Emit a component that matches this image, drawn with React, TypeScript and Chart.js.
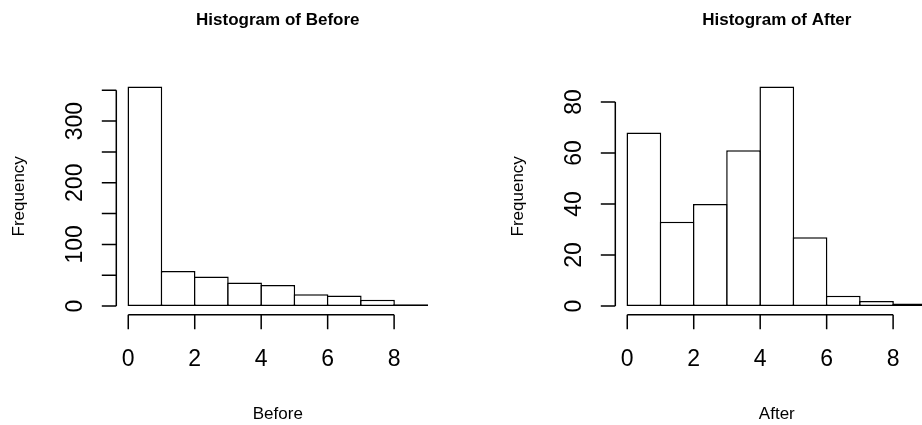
import React, { useEffect, useRef } from "react";
import { Chart, registerables } from "chart.js";

Chart.register(...registerables);

// ---- data ----
const binEdges = [0, 1, 2, 3, 4, 5, 6, 7, 8, 9];
const beforeCounts = [356, 57, 48, 38, 34, 19, 17, 10, 3];
const afterCounts = [68, 33, 40, 61, 86, 27, 4, 2, 1];
const xTicks = [0, 2, 4, 6, 8];
const beforeYTicks = [0, 50, 100, 150, 200, 250, 300, 350];
const beforeYLabels = [0, 100, 200, 300];
const afterYTicks = [0, 20, 40, 60, 80];
const afterYLabels = [0, 20, 40, 60, 80];
const titles = ["Histogram of Before", "Histogram of After"];
const xLabels = ["Before", "After"];
const yLabel = "Frequency";

// ---- layout / style ----
const FONT = '"Liberation Sans", Arial, Helvetica, sans-serif';
const PANEL_W = 499;
const PANEL_H = 425;
const PAD = { left: 116.3, right: 59.7, top: 77.8, bottom: 110.2 };
const TICK_LEN = 14.5;
const TICK_LABEL_DIST = 43;
const AXIS_TITLE_DIST = 98;
const TITLE_Y = 18.5;
const TICK_FONT = 23;
const LAB_FONT = 17;
const TITLE_FONT = 17;
const LW = 1.5;

type PanelProps = {
  title: string;
  xLabel: string;
  counts: number[];
  yTicks: number[];
  yLabels: number[];
  left: number;
};

function Panel({ title, xLabel, counts, yTicks, yLabels, left }: PanelProps) {
  const ref = useRef<HTMLCanvasElement | null>(null);

  useEffect(() => {
    const canvas = ref.current;
    if (!canvas) return;
    const xMin = binEdges[0];
    const xMax = binEdges[binEdges.length - 1];
    const xExt = (xMax - xMin) * 0.04;
    const yMax = Math.max(...counts);
    const yExt = yMax * 0.04;

    const points = counts.map((c, i) => ({
      x: (binEdges[i] + binEdges[i + 1]) / 2,
      y: c,
    }));

    const rAxes = {
      id: "rAxes",
      afterDraw(chart: any) {
        const { ctx, chartArea } = chart;
        const xs = chart.scales.x;
        const ys = chart.scales.y;
        ctx.save();
        ctx.strokeStyle = "#000";
        ctx.fillStyle = "#000";
        ctx.lineWidth = LW;
        ctx.lineCap = "butt";

        // x axis
        const ay = chartArea.bottom;
        ctx.beginPath();
        ctx.moveTo(xs.getPixelForValue(xTicks[0]), ay);
        ctx.lineTo(xs.getPixelForValue(xTicks[xTicks.length - 1]), ay);
        for (const t of xTicks) {
          const px = xs.getPixelForValue(t);
          ctx.moveTo(px, ay);
          ctx.lineTo(px, ay + TICK_LEN);
        }
        // y axis
        const ax = chartArea.left;
        ctx.moveTo(ax, ys.getPixelForValue(yTicks[0]));
        ctx.lineTo(ax, ys.getPixelForValue(yTicks[yTicks.length - 1]));
        for (const t of yTicks) {
          const py = ys.getPixelForValue(t);
          ctx.moveTo(ax, py);
          ctx.lineTo(ax - TICK_LEN, py);
        }
        ctx.stroke();

        // x tick labels
        ctx.font = `${TICK_FONT}px ${FONT}`;
        ctx.textAlign = "center";
        ctx.textBaseline = "alphabetic";
        const capT = TICK_FONT * 0.358;
        for (const t of xTicks) {
          ctx.fillText(String(t), xs.getPixelForValue(t), ay + TICK_LABEL_DIST + capT);
        }
        // y tick labels (rotated)
        for (const t of yLabels) {
          const py = ys.getPixelForValue(t);
          ctx.save();
          ctx.translate(ax - TICK_LABEL_DIST, py);
          ctx.rotate(-Math.PI / 2);
          ctx.fillText(String(t), 0, capT);
          ctx.restore();
        }

        // axis titles
        ctx.font = `${LAB_FONT}px ${FONT}`;
        const capL = LAB_FONT * 0.358;
        const cx = (chartArea.left + chartArea.right) / 2;
        const cy = (chartArea.top + chartArea.bottom) / 2;
        ctx.fillText(xLabel, cx, ay + AXIS_TITLE_DIST + capL);
        ctx.save();
        ctx.translate(ax - AXIS_TITLE_DIST, cy);
        ctx.rotate(-Math.PI / 2);
        ctx.fillText(yLabel, 0, capL);
        ctx.restore();

        // main title
        ctx.font = `bold ${TITLE_FONT}px ${FONT}`;
        ctx.fillText(title, cx, TITLE_Y + TITLE_FONT * 0.358);
        ctx.restore();
      },
    };

    const chart = new Chart(canvas, {
      type: "bar",
      data: {
        datasets: [
          {
            label: title,
            data: points as any,
            backgroundColor: "#ffffff",
            borderColor: "#000000",
            borderWidth: LW,
            borderSkipped: false,
            barPercentage: 1.045,
            categoryPercentage: 1,
            grouped: false,
          } as any,
        ],
      },
      options: {
        animation: false,
        responsive: false,
        maintainAspectRatio: false,
        devicePixelRatio: 1,
        layout: { padding: PAD },
        plugins: {
          legend: { display: false },
          tooltip: { enabled: false },
          title: { display: false },
        },
        scales: {
          x: {
            type: "linear",
            display: false,
            offset: false,
            min: xMin - xExt,
            max: xMax + xExt,
            ticks: { stepSize: 1, includeBounds: false } as any,
          },
          y: {
            type: "linear",
            display: false,
            min: -yExt,
            max: yMax + yExt,
          },
        },
      },
      plugins: [rAxes],
    });

    return () => chart.destroy();
  }, [title, xLabel, counts, yTicks, yLabels]);

  return (
    <canvas
      ref={ref}
      width={PANEL_W}
      height={PANEL_H}
      style={{ position: "absolute", left, top: 0, width: PANEL_W, height: PANEL_H }}
    />
  );
}

export default function App() {
  return (
    <div
      style={{
        position: "absolute",
        left: 0,
        top: 0,
        width: 922,
        height: 425,
        overflow: "hidden",
        background: "#ffffff",
      }}
    >
      <Panel
        title={titles[0]}
        xLabel={xLabels[0]}
        counts={beforeCounts}
        yTicks={beforeYTicks}
        yLabels={beforeYLabels}
        left={0}
      />
      <Panel
        title={titles[1]}
        xLabel={xLabels[1]}
        counts={afterCounts}
        yTicks={afterYTicks}
        yLabels={afterYLabels}
        left={PANEL_W}
      />
    </div>
  );
}
